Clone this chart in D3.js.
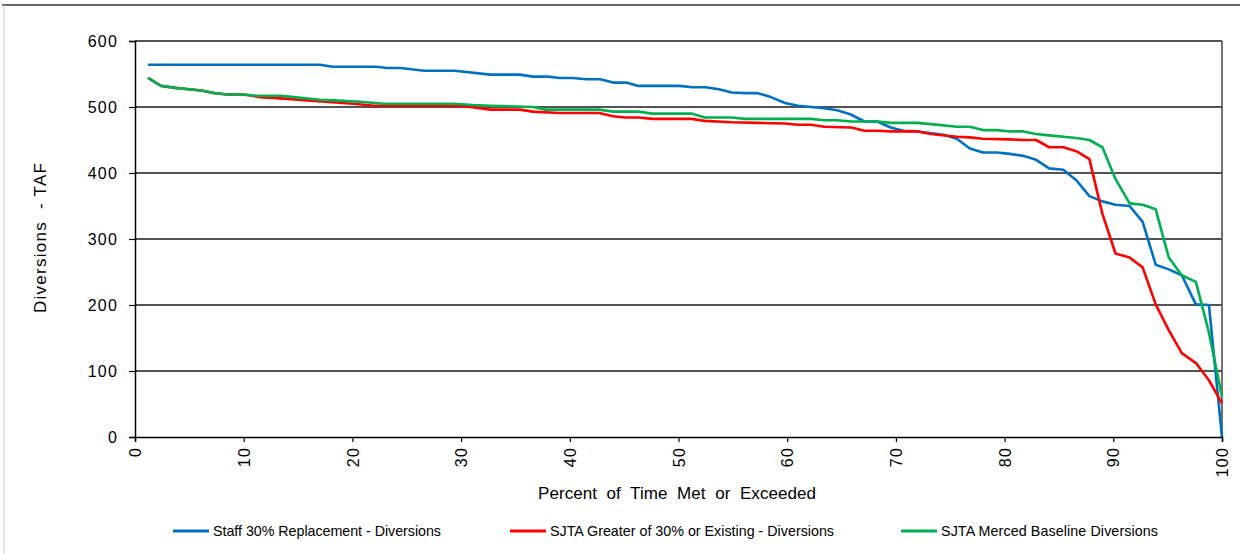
<!DOCTYPE html>
<html>
<head>
<meta charset="utf-8">
<script src="https://cdn.jsdelivr.net/npm/d3@7"></script>
<style>
  body { margin: 0; background: #fff; }
  svg { display: block; font-family: "Liberation Sans", Arial, sans-serif; }
</style>
</head>
<body>
<svg width="1241" height="554"></svg>
<script>
// exceedance curves, [percent of time, diversions TAF]
var staff = [[1.2,564],[17.0,564],[18.2,561],[22.2,561],[23.2,559],[24.4,559],[26.6,555],[29.4,555],
  [32.7,549],[35.4,549],[36.6,546],[38.0,546],[39.1,544],[40.3,544],[41.5,542],[42.8,542],[44.0,537],
  [45.2,537],[46.3,532],[50.1,532],[51.3,530],[52.5,530],[53.7,527],[54.9,522],[56.1,521],[57.3,521],
  [58.5,515],[59.8,506],[61.0,502],[63.4,498],[64.6,495],[65.8,489],[67.1,478],[68.3,478],[69.5,469],
  [70.7,464],[72.0,463],[74.4,458],[75.6,452],[76.8,437],[78.0,431],[79.3,431],[80.5,429],[81.7,426],
  [82.9,420],[84.1,407],[85.4,405],[86.6,389],[87.8,365],[89.0,357],[90.2,352],[91.5,350],[92.7,326],
  [93.9,261],[95.1,254],[96.3,245],[97.6,201],[98.8,200],[100,0]];

var sjtaGreater = [[1.2,544],[2.4,532],[3.7,529],[6.1,525],[7.3,521],[8.5,519],[10.0,519],[11.5,515],
  [13.4,513],[15.9,510],[20.1,505],[22.0,502],[29.3,502],[30.5,501],[32.7,496],[35.4,496],[36.6,493],
  [39.0,491],[42.7,491],[44.0,486],[45.1,484],[46.3,484],[47.6,482],[51.2,482],[52.4,479],[54.9,477],
  [57.3,476],[59.8,475],[61.0,473],[62.2,473],[63.4,470],[65.9,469],[67.1,464],[68.3,464],[69.5,463],
  [72.0,463],[73.2,459],[75.6,455],[76.8,454],[78.0,452],[80.5,451],[81.7,450],[82.9,450],[84.1,439],
  [85.4,439],[86.6,433],[87.8,421],[89.0,338],[90.2,278],[91.5,272],[92.7,257],[93.9,201],[95.1,162],
  [96.3,127],[97.6,112],[98.8,86],[100,51]];

var sjtaMerced = [[1.2,544],[2.4,532],[3.7,529],[6.1,525],[7.3,521],[8.5,519],[10.0,519],[11.2,517],
  [13.4,517],[14.6,515],[17.0,511],[18.3,510],[20.7,508],[22.9,505],[29.3,505],[31.1,503],[32.7,502],
  [36.6,500],[37.8,496],[42.7,496],[44.0,493],[46.3,493],[47.6,490],[51.2,490],[52.4,484],[54.9,484],
  [56.1,482],[62.2,482],[63.4,480],[64.6,480],[65.9,478],[68.3,478],[69.5,476],[72.0,476],[73.2,474],
  [75.6,470],[76.8,470],[78.0,465],[79.3,465],[80.5,463],[81.7,463],[82.9,459],[84.1,457],[85.4,455],
  [86.6,453],[87.8,450],[89.0,439],[90.2,391],[91.5,354],[92.7,352],[93.9,345],[95.1,272],[96.3,245],
  [97.6,235],[98.8,158],[100,61]];

var seriesNames = ["Staff 30% Replacement - Diversions", "SJTA Greater of 30% or Existing - Diversions", "SJTA Merced Baseline Diversions"];
var seriesColors = ["#0070C0", "#FF0000", "#00B050"];
var xTicks = [0, 10, 20, 30, 40, 50, 60, 70, 80, 90, 100];
var yTicks = [0, 100, 200, 300, 400, 500, 600];

var svg = d3.select("svg");
svg.append("rect").attr("width", 1241).attr("height", 554).attr("fill", "#fff");

// page frame
svg.append("line").attr("x1", 2).attr("x2", 1240).attr("y1", 5).attr("y2", 5)
    .attr("stroke", "#333").attr("stroke-width", 1.5);
svg.append("line").attr("x1", 4).attr("x2", 4).attr("y1", 5).attr("y2", 554)
    .attr("stroke", "#ccc").attr("stroke-width", 1);

var margin = {top: 41, left: 135};
var width = 1222 - 135, height = 437 - 41;
var g = svg.append("g").attr("transform", "translate(" + margin.left + "," + margin.top + ")");

var x = d3.scaleLinear().domain([0, 100]).range([0, width]);
var y = d3.scaleLinear().domain([0, 600]).range([height, 0]);

// gridlines
g.append("g").selectAll("line").data(yTicks.filter(function(d) { return d > 0; })).enter()
  .append("line")
    .attr("x1", 0).attr("x2", width)
    .attr("y1", function(d) { return y(d); }).attr("y2", function(d) { return y(d); })
    .attr("stroke", "#1a1a1a").attr("stroke-width", 1.3);
g.append("line").attr("x1", width).attr("x2", width).attr("y1", 0).attr("y2", height)
    .attr("stroke", "#444").attr("stroke-width", 1.5);

var line = d3.line()
    .x(function(d) { return x(d[0]); })
    .y(function(d) { return y(d[1]); });

[staff, sjtaGreater, sjtaMerced].forEach(function(s, i) {
  g.append("path")
      .datum(s)
      .attr("d", line)
      .attr("fill", "none")
      .attr("stroke", seriesColors[i])
      .attr("stroke-width", 2.6)
      .attr("stroke-linejoin", "round");
});

// axes
var yAxis = g.append("g")
    .call(d3.axisLeft(y).tickValues(yTicks).tickSize(6).tickPadding(11));
yAxis.selectAll("text").attr("font-size", 16).attr("letter-spacing", 1.2).attr("fill", "#000");

var xAxis = g.append("g")
    .attr("transform", "translate(0," + height + ")")
    .call(d3.axisBottom(x).tickValues(xTicks).tickSize(5));
xAxis.selectAll("text")
    .attr("font-size", 16).attr("letter-spacing", 1.2).attr("fill", "#000")
    .attr("transform", "rotate(-90)")
    .attr("text-anchor", "end")
    .attr("x", -10).attr("y", 0).attr("dy", "0.35em");

svg.selectAll(".domain").attr("stroke", "#000").attr("stroke-width", 1.5);
svg.selectAll(".tick line").attr("stroke", "#000").attr("stroke-width", 1.2);

// titles
svg.append("text")
    .attr("transform", "translate(46,238) rotate(-90)")
    .attr("text-anchor", "middle")
    .attr("font-size", 17)
    .attr("xml:space", "preserve")
    .attr("textLength", 150)
    .text("Diversions  - TAF");
svg.append("text")
    .attr("x", 677).attr("y", 499)
    .attr("text-anchor", "middle")
    .attr("font-size", 17)
    .attr("xml:space", "preserve")
    .attr("textLength", 278)
    .text("Percent  of  Time  Met  or  Exceeded");

// legend
var legendX = [173, 510, 901];
var legendLen = [228, 284, 217];
var legend = svg.append("g").selectAll("g").data(seriesNames).enter()
  .append("g").attr("transform", function(d, i) { return "translate(" + legendX[i] + ",531)"; });
legend.append("line").attr("x1", 0).attr("x2", 36)
    .attr("stroke", function(d, i) { return seriesColors[i]; }).attr("stroke-width", 2.8);
legend.append("text").attr("x", 40).attr("y", 5)
    .attr("font-size", 14.3)
    .attr("textLength", function(d, i) { return legendLen[i]; })
    .text(function(d) { return d; });
</script>
</body>
</html>
